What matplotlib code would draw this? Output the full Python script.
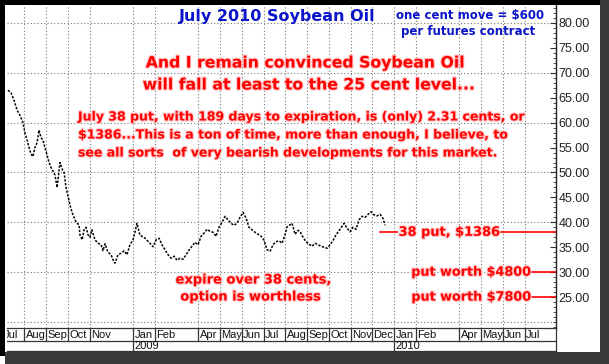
import matplotlib
matplotlib.use("Agg")
import matplotlib.pyplot as plt
import matplotlib.patheffects as pe
from matplotlib.patches import Rectangle

# months counted from Jul 2008 = 0
month_pos = [0, 1, 2, 3, 4, 6, 7, 9, 10, 11, 12, 13, 14, 15, 16, 17, 18, 19, 21, 22, 23, 24]
month_lab = ["Jul", "Aug", "Sep", "Oct", "Nov", "Jan", "Feb", "Apr", "May", "Jun", "Jul",
             "Aug", "Sep", "Oct", "Nov", "Dec", "Jan", "Feb", "Apr", "May", "Jun", "Jul"]
year_pos = [6, 18]
year_lab = ["2009", "2010"]

# soybean oil price (cents/lb)
t = [0.25, 0.39, 0.53, 0.67, 0.80, 0.94, 1.03, 1.13, 1.22, 1.31, 1.40, 1.49, 1.59, 1.68,
     1.77, 1.86, 1.95, 2.05, 2.14, 2.23, 2.32, 2.41, 2.51, 2.64, 2.76, 2.83, 2.92, 3.01,
     3.10, 3.20, 3.33, 3.43, 3.52, 3.56, 3.66, 3.75, 3.84, 3.93, 4.02, 4.11, 4.25, 4.39,
     4.53, 4.62, 4.71, 4.85, 4.99, 5.08, 5.17, 5.31, 5.45, 5.59, 5.72, 5.86, 6.00, 6.09,
     6.18, 6.32, 6.51, 6.64, 6.78, 6.92, 7.06, 7.20, 7.33, 7.47, 7.61, 7.75, 7.89, 8.02,
     8.16, 8.30, 8.44, 8.57, 8.71, 8.85, 8.99, 9.13, 9.26, 9.40, 9.54, 9.68, 9.82, 9.95,
     10.09, 10.23, 10.37, 10.51, 10.64, 10.78, 10.92, 11.06, 11.20, 11.33, 11.47, 11.61,
     11.75, 11.89, 12.02, 12.16, 12.30, 12.44, 12.57, 12.71, 12.85, 12.99, 13.08, 13.22,
     13.31, 13.45, 13.59, 13.68, 13.82, 13.95, 14.09, 14.23, 14.37, 14.51, 14.64, 14.78,
     14.92, 15.06, 15.20, 15.33, 15.47, 15.61, 15.70, 15.84, 15.98, 16.11, 16.25, 16.39,
     16.53, 16.67, 16.80, 16.94, 17.08, 17.22, 17.36, 17.49, 17.59]
price = [66.5, 66.0, 64.5, 62.5, 61.5, 60.0, 58.0, 56.5, 55.0, 53.7, 53.2, 55.0, 56.0, 58.5,
         57.0, 56.5, 55.0, 53.5, 52.0, 51.0, 50.3, 49.5, 47.0, 52.0, 50.5, 50.0, 47.0, 45.3,
         43.5, 42.0, 40.5, 39.8, 39.5, 37.5, 36.5, 38.5, 39.0, 37.5, 37.0, 38.5, 36.5, 35.8,
         35.5, 34.3, 35.7, 34.0, 33.5, 32.5, 31.8, 33.5, 33.8, 34.3, 33.5, 35.5, 36.5, 38.0,
         39.8, 37.4, 37.0, 36.4, 35.8, 35.1, 36.5, 36.8, 35.5, 34.5, 33.5, 32.8, 33.2, 32.4,
         32.8, 32.6, 33.5, 34.4, 35.2, 36.0, 35.5, 37.2, 37.8, 38.6, 38.2, 38.0, 37.2, 39.0,
         40.0, 41.2, 40.5, 39.8, 39.4, 39.8, 41.0, 42.0, 40.8, 39.0, 38.5, 38.0,
         37.6, 37.2, 36.4, 34.5, 34.2, 35.5, 36.1, 36.3, 35.8, 37.5, 39.1, 39.5,
         39.8, 37.6, 38.4, 38.1, 37.0, 36.1, 35.6, 35.2, 35.8, 35.5, 35.2, 35.0,
         34.8, 35.5, 36.4, 37.5, 38.3, 39.2, 39.8, 38.8, 38.1, 39.0, 38.6, 40.5,
         41.2, 41.0, 41.6, 42.1, 41.5, 41.3, 41.6, 40.8, 39.4]

y_ticks = [25, 30, 35, 40, 45, 50, 55, 60, 65, 70, 75, 80]
levels = [38, 30, 25]
level_text = ["38 put, $1386", "put worth $4800", "put worth $7800"]

W, H = 609, 364
RED = "#ff0000"
BLUE = "#0a14c8"
plt.rcParams['font.family'] = ['Liberation Sans', 'DejaVu Sans']
NOTE = "DejaVu Sans"

fig = plt.figure(figsize=(W / 100, H / 100), dpi=100)
fig.patch.set_facecolor("white")


def fx(px):
    return px / W


def fy(py):
    return 1 - py / H


x0, x1 = 0.207, 25.43
ax = fig.add_axes([fx(7), fy(328), fx(555.7) - fx(7), fy(5) - fy(328)])
ax.set_xlim(x0, x1)
ax.set_ylim(18.8, 83.6)
for s in ["top", "left", "bottom"]:
    ax.spines[s].set_visible(False)
ax.spines["right"].set_color("#222222")
ax.spines["right"].set_linewidth(1)

dot = (0, (1, 2))
for g in range(20, 81, 10):
    ax.axhline(g, color="#777777", lw=0.8, ls=dot, zorder=1)
for m in month_pos:
    ax.axvline(m, color="#777777", lw=0.8, ls=dot, zorder=1)

ax.yaxis.tick_right()
ax.set_yticks(y_ticks)
ax.set_yticklabels(["%.2f" % v for v in y_ticks], fontsize=9, color="#222222")
ax.set_yticks(range(19, 84), minor=True)
ax.tick_params(axis="y", which="major", direction="in", length=4, width=0.8, pad=2, color="#333333")
ax.tick_params(axis="y", which="minor", direction="in", length=2, width=0.6, color="#333333")
ax.set_xticks([])

ax.plot(t, price, color="black", lw=1.1, ls=(0, (1.5, 1)), zorder=3)

halo = [pe.withStroke(linewidth=1.5, foreground="#ffc4c4")]

# level lines
ax.plot([17.36, x1], [levels[0], levels[0]], color=RED, lw=1.2, zorder=4)
ax.text(20.53, levels[0], level_text[0], color=RED, fontsize=9.3, fontweight="bold",
        family=NOTE, ha="center", va="center", zorder=5, path_effects=halo,
        bbox=dict(facecolor="white", edgecolor="none", pad=0.5))
for lv, lt in zip(levels[1:], level_text[1:]):
    ax.plot([24.33, x1], [lv, lv], color=RED, lw=1.2, zorder=4)
    ax.text(24.3, lv, lt, color=RED, fontsize=9.2, fontweight="bold", family=NOTE,
            ha="right", va="center", zorder=5, path_effects=halo)

# date band
bx = fig.add_axes([fx(7), fy(351), fx(555.7) - fx(7), fy(328) - fy(351)])
bx.set_xlim(x0, x1)
bx.set_ylim(23, 0)
bx.set_xticks([])
bx.set_yticks([])
for s in ["top", "bottom", "right"]:
    bx.spines[s].set_color("#333333")
    bx.spines[s].set_linewidth(0.9)
bx.spines["left"].set_visible(False)
bx.axhline(13, color="#333333", lw=0.9)
for m, lab in zip(month_pos, month_lab):
    bx.plot([m, m], [0, 13], color="#333333", lw=0.9)
    bx.text(m + 0.06, 7, lab, fontsize=8, ha="left", va="center", color="#111111", clip_on=True)
for m, lab in zip(year_pos, year_lab):
    bx.plot([m, m], [13, 23], color="#333333", lw=0.9)
    bx.text(m + 0.06, 18.3, lab, fontsize=8, ha="left", va="center", color="#111111")

# annotations
fig.text(fx(277), fy(16), "July 2010 Soybean Oil", color=BLUE, fontsize=11.5,
         fontweight="bold", family=NOTE, ha="center", va="center")
fig.text(fx(470), fy(15), "one cent move = $600", color=BLUE, fontsize=8.5,
         fontweight="bold", family=NOTE, ha="center", va="center")
fig.text(fx(468), fy(32), "per futures contract", color=BLUE, fontsize=8.5,
         fontweight="bold", family=NOTE, ha="center", va="center")
fig.text(fx(306), fy(63), "And I remain convinced Soybean Oil", color=RED, fontsize=11.3,
         fontweight="bold", family=NOTE, ha="center", va="center", path_effects=halo)
fig.text(fx(310), fy(85), "will fall at least to the 25 cent level...", color=RED, fontsize=11.3,
         fontweight="bold", family=NOTE, ha="center", va="center", path_effects=halo)
para = ["July 38 put, with 189 days to expiration, is (only) 2.31 cents, or",
        "$1386...This is a ton of time, more than enough, I believe, to",
        "see all sorts  of very bearish developments for this market."]
for i, line in enumerate(para):
    fig.text(fx(78), fy(117 + i * 18), line, color=RED, fontsize=9,
             fontweight="bold", family=NOTE, ha="left", va="center", path_effects=halo)
fig.text(fx(253), fy(280), "expire over 38 cents,", color=RED, fontsize=9.4,
         fontweight="bold", family=NOTE, ha="center", va="center", path_effects=halo)
fig.text(fx(250), fy(297), "option is worthless", color=RED, fontsize=9.4,
         fontweight="bold", family=NOTE, ha="center", va="center", path_effects=halo)

# frame and shadow
fig.patches.append(Rectangle((0, fy(356)), fx(5), fy(0) - fy(356), transform=fig.transFigure,
                             facecolor="black", edgecolor="none", zorder=10))
fig.patches.append(Rectangle((0, fy(5)), fx(600), fy(0) - fy(5), transform=fig.transFigure,
                             facecolor="black", edgecolor="none", zorder=10))
fig.patches.append(Rectangle((fx(600), 0), fx(9), fy(0), transform=fig.transFigure,
                             facecolor="#3a3a3a", edgecolor="none", zorder=10))
fig.patches.append(Rectangle((fx(5), 0), fx(604), fy(352), transform=fig.transFigure,
                             facecolor="#3a3a3a", edgecolor="none", zorder=10))

fig.savefig("out.png", dpi=100)
